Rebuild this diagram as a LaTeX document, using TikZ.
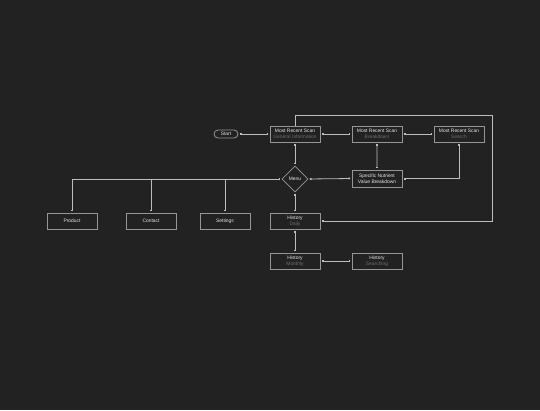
\documentclass[tikz,border=0pt]{standalone}
\usepackage{fontspec}
\setmainfont{Liberation Sans}
\definecolor{BgDark}  {RGB}{34,34,34}
\definecolor{BoxLine} {RGB}{150,150,150}
\definecolor{LinkLine}{RGB}{190,190,190}
\definecolor{TitleTxt}{RGB}{230,230,230}
\definecolor{SubTxt}  {RGB}{110,110,110}
\usetikzlibrary{arrows.meta,positioning,calc,shapes.geometric}
\newcommand{\scr}[2]{#1\\{\color{SubTxt}#2}}
\begin{document}
\begin{tikzpicture}[x=1pt,y=-1pt,
  font=\fontsize{4.9}{5.8}\selectfont,
  screen/.style={draw=BoxLine,line width=0.8pt,text=TitleTxt,
                 minimum width=50pt,minimum height=16pt,inner sep=0pt,
                 align=center},
  pill/.style={draw=BoxLine,line width=0.8pt,text=TitleTxt,
               rounded corners=4pt,minimum width=24pt,minimum height=8pt,
               inner sep=0pt},
  choice/.style={draw=BoxLine,line width=0.8pt,text=TitleTxt,diamond,
                 minimum width=26pt,minimum height=26pt,inner sep=0pt},
  link/.style={LinkLine,line width=0.8pt,
               {Square[length=1.6pt,width=1.6pt]}-{Square[length=1.6pt,width=1.6pt]},
               shorten <=1.5pt,shorten >=1.5pt},
  feed/.style={LinkLine,line width=0.8pt,-{Square[length=1.6pt,width=1.6pt]},
               shorten >=1.5pt}]
  \fill[BgDark](0,0)rectangle(540,410);
  \useasboundingbox(0,0)rectangle(540,410);
  % top row
  \node[pill](start)at(226,134){Start};
  \node[screen](scanGen)at(295,134){\scr{Most Recent Scan}{General Information}};
  \node[screen,right=31.2pt of scanGen](scanBrk){\scr{Most Recent Scan}{Breakdown}};
  \node[screen,right=31.2pt of scanBrk](scanSrch){\scr{Most Recent Scan}{Search}};
  % middle row
  \node[choice](menu)at(295,179){Menu};
  \node[screen,minimum height=17pt](nutrient)at(377,178.5){Specific Nutrient\\Value Breakdown};
  % bottom rows
  \node[screen](product)at(72,221){Product};
  \node[screen](contact)at(151,221){Contact};
  \node[screen](settings)at(225,221){Settings};
  \node[screen](histDay)at(295,221){\scr{History}{Daily}};
  \node[screen](histMon)at(295,261){\scr{History}{Monthly}};
  \node[screen](histSrch)at(377,261){\scr{History}{Searching}};
  \draw[link](start)--(scanGen);
  \draw[link](scanGen)--(scanBrk);
  \draw[link](scanBrk)--(scanSrch);
  \draw[link](scanGen)--(menu);
  \draw[link](scanBrk)--(nutrient);
  \draw[link](scanSrch.south)|-(nutrient.east);
  \draw[link](nutrient.west)--(menu.east);
  \draw[link](menu.west)-|(product.north);
  \coordinate(toContact)at(contact.north|-menu.west);
  \coordinate(toSettings)at(settings.north|-menu.west);
  \draw[feed](toContact)--(contact.north);
  \draw[feed](toSettings)--(settings.north);
  \draw[link](menu.south)--(histDay.north);
  % way back from the daily history
  \coordinate(loopTop)at(scanGen.north|-0,115);
  \coordinate(loopCorner)at(492,115);
  \draw[feed](scanGen.north)--(loopTop)-|(loopCorner)|-(histDay.east);
  \draw[link](histDay)--(histMon);
  \draw[link](histMon)--(histSrch);
\end{tikzpicture}
\end{document}
